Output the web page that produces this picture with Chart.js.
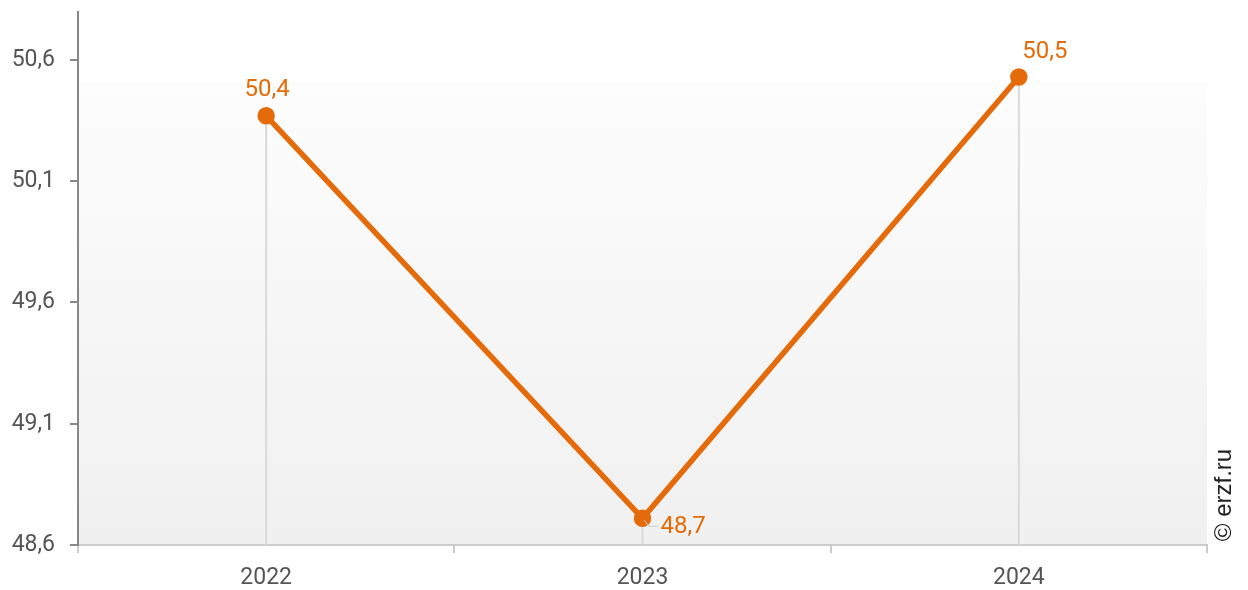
<!DOCTYPE html>
<html>
<head>
<meta charset="utf-8">
<script src="https://cdn.jsdelivr.net/npm/chart.js@4.4.1/dist/chart.umd.min.js"></script>
<style>
  html, body { margin: 0; padding: 0; background: #fff; }
  #wrap { width: 1248px; height: 590px; }
</style>
</head>
<body>
<div id="wrap"><canvas id="myChart"></canvas></div>
<script>
// data
var years = ["2022", "2023", "2024"];
var values = [50.37, 48.71, 50.53];
var yTicks = [48.6, 49.1, 49.6, 50.1, 50.6];

var orange = "#e56b0a";
var fmt = function (v, d) { return v.toFixed(d).replace(".", ","); };

// background, drop lines, value labels, copyright
var decor = {
  id: "decor",
  beforeDatasetsDraw: function (chart) {
    var ctx = chart.ctx, a = chart.chartArea;
    var top = chart.scales.y.getPixelForValue(50.51);
    var g = ctx.createLinearGradient(0, top, 0, a.bottom);
    g.addColorStop(0, "#fdfdfd");
    g.addColorStop(1, "#f0f0f0");
    ctx.save();
    ctx.fillStyle = g;
    ctx.fillRect(a.left + 1, top, a.right - a.left - 1, a.bottom - top - 1);
    // drop lines
    ctx.strokeStyle = "#d9d9d9";
    ctx.lineWidth = 2;
    chart.getDatasetMeta(0).data.forEach(function (p) {
      ctx.beginPath();
      ctx.moveTo(p.x, p.y);
      ctx.lineTo(p.x, a.bottom);
      ctx.stroke();
    });
    ctx.restore();
  },
  afterDatasetsDraw: function (chart) {
    var ctx = chart.ctx;
    var pts = chart.getDatasetMeta(0).data;
    ctx.save();
    ctx.font = "24px Roboto";
    ctx.fillStyle = orange;
    ctx.textBaseline = "middle";
    pts.forEach(function (p, i) {
      var txt = fmt(values[i], 1);
      if (i === 1) {
        ctx.strokeStyle = "#cccccc";
        ctx.lineWidth = 1;
        ctx.beginPath();
        ctx.moveTo(p.x + 2, p.y + 2);
        ctx.lineTo(p.x + 6, p.y + 8);
        ctx.lineTo(p.x + 16, p.y + 8);
        ctx.stroke();
        ctx.textAlign = "left";
        ctx.fillText(txt, p.x + 18, p.y + 9);
      } else if (i === 2) {
        ctx.textAlign = "center";
        ctx.fillText(txt, p.x + 26, p.y - 25);
      } else {
        ctx.textAlign = "center";
        ctx.fillText(txt, p.x + 1, p.y - 26);
      }
    });
    // copyright
    ctx.translate(1224, 495);
    ctx.rotate(-Math.PI / 2);
    ctx.fillStyle = "#222";
    ctx.font = "24px 'Liberation Sans'";
    ctx.textAlign = "center";
    ctx.textBaseline = "middle";
    ctx.fillText("\u00a9 erzf.ru", 0, 0);
    ctx.restore();
  }
};

new Chart("myChart", {
  type: "line",
  data: {
    labels: years,
    datasets: [{
      data: values,
      borderColor: orange,
      backgroundColor: orange,
      borderWidth: 5.5,
      pointRadius: 6,
      pointHoverRadius: 6,
      tension: 0
    }]
  },
  options: {
    responsive: true,
    maintainAspectRatio: false,
    animation: false,
    layout: { padding: { top: 10, right: 41, left: 0, bottom: 0 } },
    plugins: {
      legend: { display: false },
      tooltip: { enabled: false }
    },
    scales: {
      x: {
        offset: true,
        grid: { offset: true, drawOnChartArea: false, color: "#cccccc", tickLength: 8, lineWidth: 2 },
        border: { color: "#cccccc", width: 2 },
        ticks: { color: "#555", font: { family: "Roboto", size: 23 }, padding: 11 },
        afterFit: function (s) { s.height = 45; s.paddingLeft = 0; s.paddingRight = 0; }
      },
      y: {
        min: 48.6,
        max: 50.8,
        afterBuildTicks: function (s) {
          s.ticks = yTicks.map(function (v) { return { value: v }; });
        },
        grid: { drawOnChartArea: false, color: "#888", tickLength: 8, lineWidth: 2 },
        border: { color: "#888", width: 2 },
        ticks: {
          color: "#555",
          font: { family: "Roboto", size: 23 },
          padding: 15,
          callback: function (v) { return fmt(v, 1); }
        },
        afterFit: function (s) { s.width = 78; s.paddingTop = 0; s.paddingBottom = 0; }
      }
    }
  },
  plugins: [decor]
});
</script>
</body>
</html>
